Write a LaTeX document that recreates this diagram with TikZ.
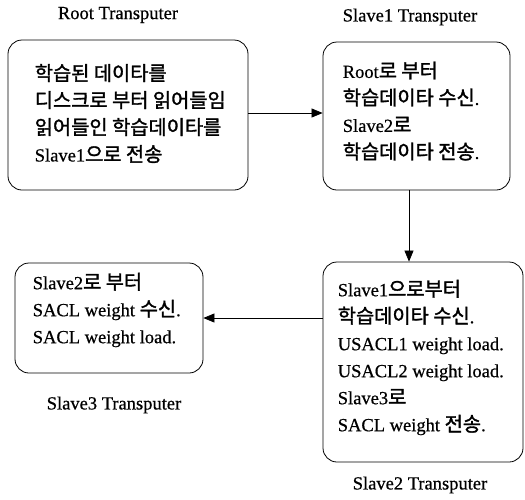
\documentclass[tikz,border=0pt]{standalone}
\usepackage{fontspec}
\setmainfont{Liberation Serif}[FakeBold=0.6]
\newfontfamily\kr{Noto Sans CJK KR}[Scale=1.07,FakeBold=1.6]
\usetikzlibrary{arrows.meta}
\begin{document}
\begin{tikzpicture}[x=1pt,y=-1pt,
  box/.style={draw, rounded corners=14pt, line width=0.8pt, inner sep=0pt},
  txt/.style={anchor=west, align=left, inner sep=0pt, font=\fontsize{18.5}{27}\selectfont},
  lbl/.style={inner sep=0pt, font=\fontsize{18.5}{22}\selectfont},
  arr/.style={line width=0.7pt, -{Triangle[length=11pt,width=9pt]}}]
\useasboundingbox (0,0) rectangle (525,499);
% boxes
\node[box, minimum width=240pt, minimum height=150pt] (root) at (128,115) {};
\node[box, minimum width=187pt, minimum height=148pt] (slave1) at (416.5,116) {};
\node[box, minimum width=200pt, minimum height=200pt] (slave2) at (423,362) {};
\node[box, minimum width=188pt, minimum height=110pt] (slave3) at (109,318) {};
% texts
\node[txt] (roottxt) at ([xshift=27pt,yshift=1.5pt]root.west)
  {{\kr 학습된 데이타를}\\{\kr 디스크로 부터 읽어들임}\\{\kr 읽어들인 학습데이타를}\\Slave1{\kr 으로 전송}};
\node[txt] (slave1txt) at ([xshift=20pt,yshift=5pt]slave1.west)
  {Root{\kr 로 부터}\\{\kr 학습데이타 수신}.\\Slave2{\kr 로}\\{\kr 학습데이타 전송}.};
\node[txt] (slave2txt) at ([xshift=15pt,yshift=4.5pt]slave2.west)
  {Slave1{\kr 으로부터}\\{\kr 학습데이타 수신}.\\USACL1 weight load.\\USACL2 weight load.\\Slave3{\kr 로}\\SACL weight {\kr 전송}.};
\node[txt] (slave3txt) at ([xshift=18pt,yshift=8pt]slave3.west)
  {Slave2{\kr 로 부터}\\SACL weight {\kr 수신}.\\SACL weight load.};
% labels
\node[lbl] (rootlbl) at (118,15) {Root Transputer};
\node[lbl] (slave1lbl) at (410,17) {Slave1 Transputer};
\node[lbl] (slave2lbl) at (420,485) {Slave2 Transputer};
\node[lbl] (slave3lbl) at (114,405) {Slave3 Transputer};
% connectors
\draw[arr] ([yshift=2pt]root.east) -- ([yshift=2pt]root.east -| slave1.west);
\draw[arr] ([xshift=-7.5pt]slave1.south) -- ([xshift=-7.5pt]slave1.south |- slave2.north);
\draw[arr] (slave2.west |- slave3.east) -- (slave3.east);
\end{tikzpicture}
\end{document}
